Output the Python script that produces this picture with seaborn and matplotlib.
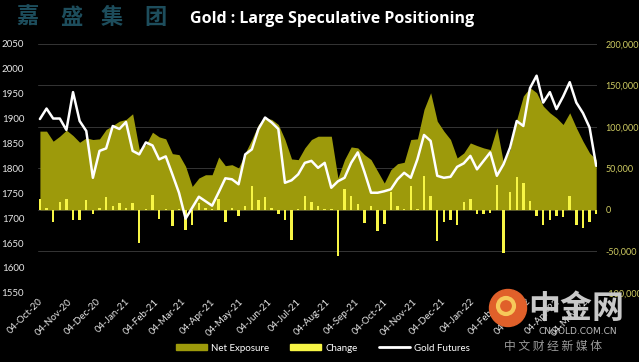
import pandas as pd
import matplotlib
matplotlib.use("Agg")
import matplotlib.pyplot as plt
import matplotlib.dates as mdates
from matplotlib.patches import Patch, Ellipse
from matplotlib.lines import Line2D
from matplotlib.ticker import FuncFormatter, MultipleLocator
import seaborn as sns

# Weekly COT report dates (Tuesdays)
dates = pd.date_range("2020-10-06", periods=85, freq="7D")

# Gold futures price (left axis)
gold_futures = [1899, 1920, 1900, 1900, 1877, 1953, 1895, 1875, 1781, 1835,
                1840, 1885, 1879, 1893, 1835, 1828, 1852, 1846, 1818, 1824,
                1788, 1751, 1699, 1721, 1743, 1734, 1725, 1752, 1780, 1778,
                1768, 1828, 1838, 1879, 1902, 1892, 1879, 1771, 1776, 1788,
                1811, 1815, 1801, 1811, 1761, 1774, 1781, 1811, 1832, 1793,
                1751, 1751, 1754, 1758, 1778, 1791, 1781, 1818, 1867, 1855,
                1785, 1781, 1783, 1803, 1810, 1825, 1798, 1815, 1832, 1785,
                1808, 1842, 1895, 1885, 1961, 1986, 1932, 1953, 1919, 1944,
                1973, 1932, 1911, 1882, 1805]

# Large speculator net exposure (contracts, right axis)
net_exposure = [94800, 94800, 82700, 88700, 96000, 89500, 81400, 86700, 84700, 85500,
                96800, 101600, 106800, 108900, 115700, 72600, 78600, 93500, 87900, 85500,
                67700, 66500, 52400, 28200, 38300, 42300, 42300, 63700, 53200, 54400,
                50400, 68500, 84700, 102800, 110900, 108900, 102800, 84700, 61300, 60500,
                74600, 84700, 88700, 88700, 88700, 38300, 60500, 75800, 74600, 66500,
                60500, 46400, 32300, 48400, 55600, 57300, 84700, 85500, 121000, 141100,
                106800, 94800, 84700, 62500, 68500, 80600, 77400, 74600, 72600, 98800,
                56400, 72600, 108900, 137100, 147200, 141100, 125000, 116900, 110900, 102800,
                116900, 98800, 82700, 68500, 60500]

# Weekly change in net exposure (contracts, right axis)
change = [13300, 2400, -14500, 9300, 12500, -12500, -12500, 11700, -5600, 2400,
          15300, 4400, 7700, 2400, 8500, -40000, 1200, 18000, -11000, 1500,
          -20000, 1500, -24000, -18000, 8000, 2400, 1200, 13000, -14500, 2400,
          -7000, 4400, 29000, 12000, 16000, 2400, -4500, -12500, -36000, 800,
          17000, 9000, 5000, 1500, 1500, -56000, 25000, 17000, 7500, -15500,
          4400, -25000, -17500, 21000, 5000, 1500, 29000, 1000, 41000, 17000,
          -38000, -15000, -12000, -18000, 9000, 12500, -4500, -5500, -4000, 30000,
          -52000, 21000, 39500, 32500, 10500, -7000, -18000, -12500, -8000, -8800,
          17000, -18000, -22000, -15000, -5500]

olive = "#9d9a0b"
yellow = "#f7f545"
bg = "black"

sns.set_theme(style="dark", rc={"axes.facecolor": bg, "figure.facecolor": bg})
plt.rcParams["font.family"] = ["Lato", "Noto Sans CJK SC", "DejaVu Sans"]

fig = plt.figure(figsize=(6.39, 3.62), dpi=100)
ax = fig.add_axes([0.0595, 0.191, 0.875, 0.688])
ax2 = ax.twinx()

# positions on the primary axes (ticks shown on the right)
ax.fill_between(dates, 0, net_exposure, color=olive, linewidth=0, zorder=2)
ax.bar(dates, change, width=2.6, color=yellow, linewidth=0, zorder=3)
ax.set_ylim(-100000, 200000)
ax.yaxis.set_major_locator(MultipleLocator(50000))
ax.yaxis.set_major_formatter(FuncFormatter(lambda v, p: f"{int(v):,}"))
ax.yaxis.tick_right()
ax.tick_params(axis="y", colors="#cfcc62", labelsize=6.5, length=0, pad=6)
ax.grid(axis="y", color="#353535", linewidth=0.7)
ax.grid(axis="x", visible=False)
ax.set_axisbelow(True)

# gold price line on the twin axes (ticks shown on the left)
sns.lineplot(x=dates, y=gold_futures, ax=ax2, color="white", linewidth=1.8)
ax2.set_ylim(1550, 2050)
ax2.yaxis.set_major_locator(MultipleLocator(50))
ax2.yaxis.tick_left()
ax2.tick_params(axis="y", colors="#e6e6e6", labelsize=7, length=0, pad=10)
ax2.grid(False)

ax.set_xlim(dates[0] - pd.Timedelta(days=1), dates[-1] + pd.Timedelta(days=1))
ticks = pd.date_range("2020-10-01", "2022-05-01", freq="MS") + pd.Timedelta(days=3)
ax.set_xticks(ticks)
ax.xaxis.set_major_formatter(mdates.DateFormatter("%d-%b-%y"))
ax.tick_params(axis="x", colors="#e6e6e6", labelsize=7, length=0, pad=3)
for lbl in ax.get_xticklabels():
    lbl.set_rotation(45)
    lbl.set_ha("right")
    lbl.set_rotation_mode("anchor")

for a in (ax, ax2):
    a.set_xlabel("")
    a.set_ylabel("")
    for s in a.spines.values():
        s.set_visible(False)

# header
fig.text(0.298, 0.947, "Gold : Large Speculative Positioning", color="white",
         fontsize=11.5, fontweight="bold", family=["Open Sans", "DejaVu Sans"],
         ha="left", va="center")
for cx, ch in zip([27, 71, 112, 155], "嘉盛集团"):
    fig.text(cx / 639, 1 - 17 / 362, ch, color="#1d4d5c", fontsize=16,
             fontweight="bold", family=["Noto Sans CJK SC"], ha="center", va="center")

handles = [Patch(color=olive), Patch(color=yellow), Line2D([], [], color="white", lw=2)]
leg = fig.legend(handles, ["Net Exposure", "Change", "Gold Futures"], loc="center",
                 bbox_to_anchor=(0.505, 0.038), ncol=3, frameon=False, fontsize=7,
                 handlelength=3.2, handleheight=0.6, columnspacing=2.2, handletextpad=0.4)
for t in leg.get_texts():
    t.set_color("white")

# watermark
fig.patches.append(Ellipse((508 / 639, 1 - 308 / 362), 37 / 639, 37 / 362,
                           transform=fig.transFigure, color="#e0602a", zorder=5))
fig.patches.append(Ellipse((506 / 639, 1 - 306 / 362), 16 / 639, 16 / 362,
                           transform=fig.transFigure, facecolor="none",
                           edgecolor="#f6c85a", linewidth=3, zorder=5))
fig.text(576 / 639, 1 - 309 / 362, "中金网", color="#c9c9c9", fontsize=23,
         fontweight="bold", family=["Noto Sans CJK SC"], ha="center", va="center", zorder=6)
fig.text(578 / 639, 1 - 332 / 362, "CNGOLD.COM.CN", color="#bdbdbd", fontsize=6.5,
         family=["DejaVu Sans"], ha="center", va="center", zorder=6)
fig.text(553 / 639, 1 - 346 / 362, "中 文 财 经 新 媒 体", color="#9a9a9a", fontsize=8.5,
         family=["Noto Sans CJK SC"], ha="center", va="center", zorder=6)

fig.savefig("out.png", dpi=100, facecolor=bg)
